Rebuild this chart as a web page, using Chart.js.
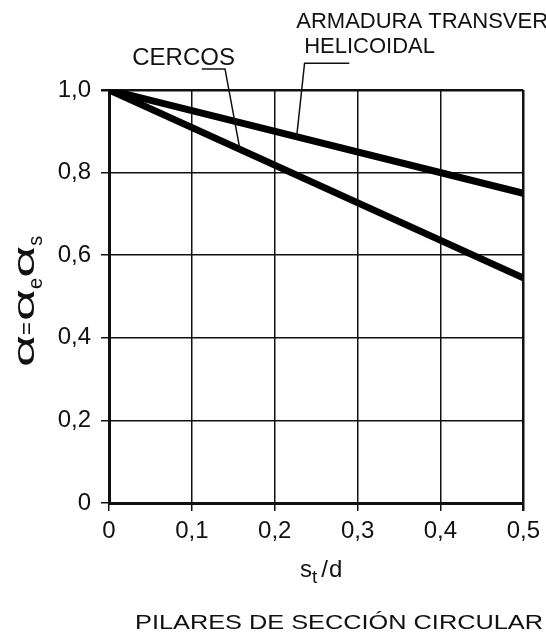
<!DOCTYPE html>
<html>
<head>
<meta charset="utf-8">
<script src="https://cdn.jsdelivr.net/npm/chart.js@4.4.1/dist/chart.umd.min.js"></script>
<style>
  html, body { margin: 0; padding: 0; background: #fff; }
  #wrap { width: 546px; height: 632px; }
</style>
</head>
<body>
<div id="wrap"><canvas id="chart" width="546" height="632"></canvas></div>
<script>
// data
var stOverD = [0, 0.5];
var cercos = [1.0, 0.545];
var helicoidal = [1.0, 0.75];
var xTickLabels = ['0', '0,1', '0,2', '0,3', '0,4', '0,5'];
var yTickLabels = ['0', '0,2', '0,4', '0,6', '0,8', '1,0'];

// leader lines and labels (data units)
var cercosLeader = [[0.112, 1.051], [0.140, 1.051], [0.158, 0.856]];
var helicLeader = [[0.290, 1.065], [0.236, 1.065], [0.2265, 0.887]];
var labels = [
  { text: 'CERCOS', x: 0.152, y: 1.061, align: 'right', size: 24 },
  { text: 'ARMADURA TRANSVER', x: 0.226, y: 1.150, align: 'left', size: 22 },
  { text: 'HELICOIDAL', x: 0.2355, y: 1.090, align: 'left', size: 22 }
];

var FONT = '"Liberation Sans", Arial, sans-serif';
var INK = '#111';

function pts(ys) {
  return stOverD.map(function (x, i) { return { x: x, y: ys[i] }; });
}

// draws a row of text pieces: {t, size, dy, sx, gap}
function drawPieces(ctx, pieces, x, y) {
  var cx = x;
  pieces.forEach(function (p) {
    ctx.font = p.size + 'px ' + FONT;
    var w = ctx.measureText(p.t).width * (p.sx || 1);
    ctx.save();
    ctx.translate(cx, y + (p.dy || 0));
    ctx.scale(p.sx || 1, 1);
    ctx.fillText(p.t, 0, 0);
    ctx.restore();
    cx += w + (p.gap || 0);
  });
}

var annotate = {
  id: 'annotate',
  afterDraw: function (chart) {
    var ctx = chart.ctx, xs = chart.scales.x, ys = chart.scales.y;
    ctx.save();
    ctx.fillStyle = INK;
    ctx.strokeStyle = INK;
    ctx.textBaseline = 'alphabetic';

    // leaders
    ctx.lineWidth = 1.5;
    [cercosLeader, helicLeader].forEach(function (l) {
      ctx.beginPath();
      l.forEach(function (p, i) {
        var px = xs.getPixelForValue(p[0]), py = ys.getPixelForValue(p[1]);
        if (i === 0) ctx.moveTo(px, py); else ctx.lineTo(px, py);
      });
      ctx.stroke();
    });

    // labels
    labels.forEach(function (lb) {
      ctx.font = lb.size + 'px ' + FONT;
      ctx.textAlign = lb.align;
      ctx.fillText(lb.text, xs.getPixelForValue(lb.x), ys.getPixelForValue(lb.y));
    });
    ctx.textAlign = 'left';

    // y title: alpha = alpha_e alpha_s
    ctx.save();
    ctx.translate(34, 367);
    ctx.rotate(-Math.PI / 2);
    var a = { t: '\u03B1', size: 30, sx: 1.85 };
    drawPieces(ctx, [
      a, { t: '=', size: 22, gap: 1 }, a,
      { t: 'e', size: 20, dy: 8 }, a,
      { t: 's', size: 20, dy: 8 }
    ], 0, 0);
    ctx.restore();

    // x title: s_t/d
    drawPieces(ctx, [
      { t: 's', size: 24 },
      { t: 't', size: 19, dy: 6, gap: 4 },
      { t: '/', size: 24, gap: 1 },
      { t: 'd', size: 24 }
    ], 300, 577);

    // caption
    ctx.font = '21px ' + FONT;
    var cap = 'PILARES DE SECCI\u00D3N CIRCULAR';
    var cw = ctx.measureText(cap).width;
    drawPieces(ctx, [{ t: cap, size: 21, sx: 408 / cw }], 135, 629);

    ctx.restore();
  }
};

new Chart(document.getElementById('chart'), {
  type: 'line',
  data: {
    datasets: [
      { label: 'CERCOS', data: pts(cercos) },
      { label: 'HELICOIDAL', data: pts(helicoidal) }
    ]
  },
  options: {
    responsive: false,
    animation: false,
    layout: { padding: { top: 90, right: 22, left: 0, bottom: 0 } },
    elements: {
      point: { radius: 0 },
      line: { borderColor: '#000', borderWidth: 7, borderCapStyle: 'butt', tension: 0 }
    },
    plugins: { legend: { display: false }, tooltip: { enabled: false } },
    scales: {
      x: {
        type: 'linear', min: 0, max: 0.5,
        afterFit: function (s) { s.height = 129; },
        grid: { color: INK, lineWidth: function (c) { return c.index === 5 ? 2.5 : 1.5; }, tickLength: 8 },
        border: { color: INK, width: 3 },
        ticks: {
          stepSize: 0.1, padding: 6, color: INK, maxRotation: 0,
          font: { family: FONT, size: 24 },
          callback: function (v, i) { return xTickLabels[i]; }
        }
      },
      y: {
        min: 0, max: 1,
        afterFit: function (s) { s.width = 109; },
        grid: { color: INK, lineWidth: function (c) { return c.index === 5 ? 2.5 : 1.5; }, tickLength: 8 },
        border: { color: INK, width: 3 },
        ticks: {
          stepSize: 0.2, padding: 10, color: INK,
          font: { family: FONT, size: 24 },
          callback: function (v, i) { return yTickLabels[i]; }
        }
      }
    }
  },
  plugins: [annotate]
});
</script>
</body>
</html>
